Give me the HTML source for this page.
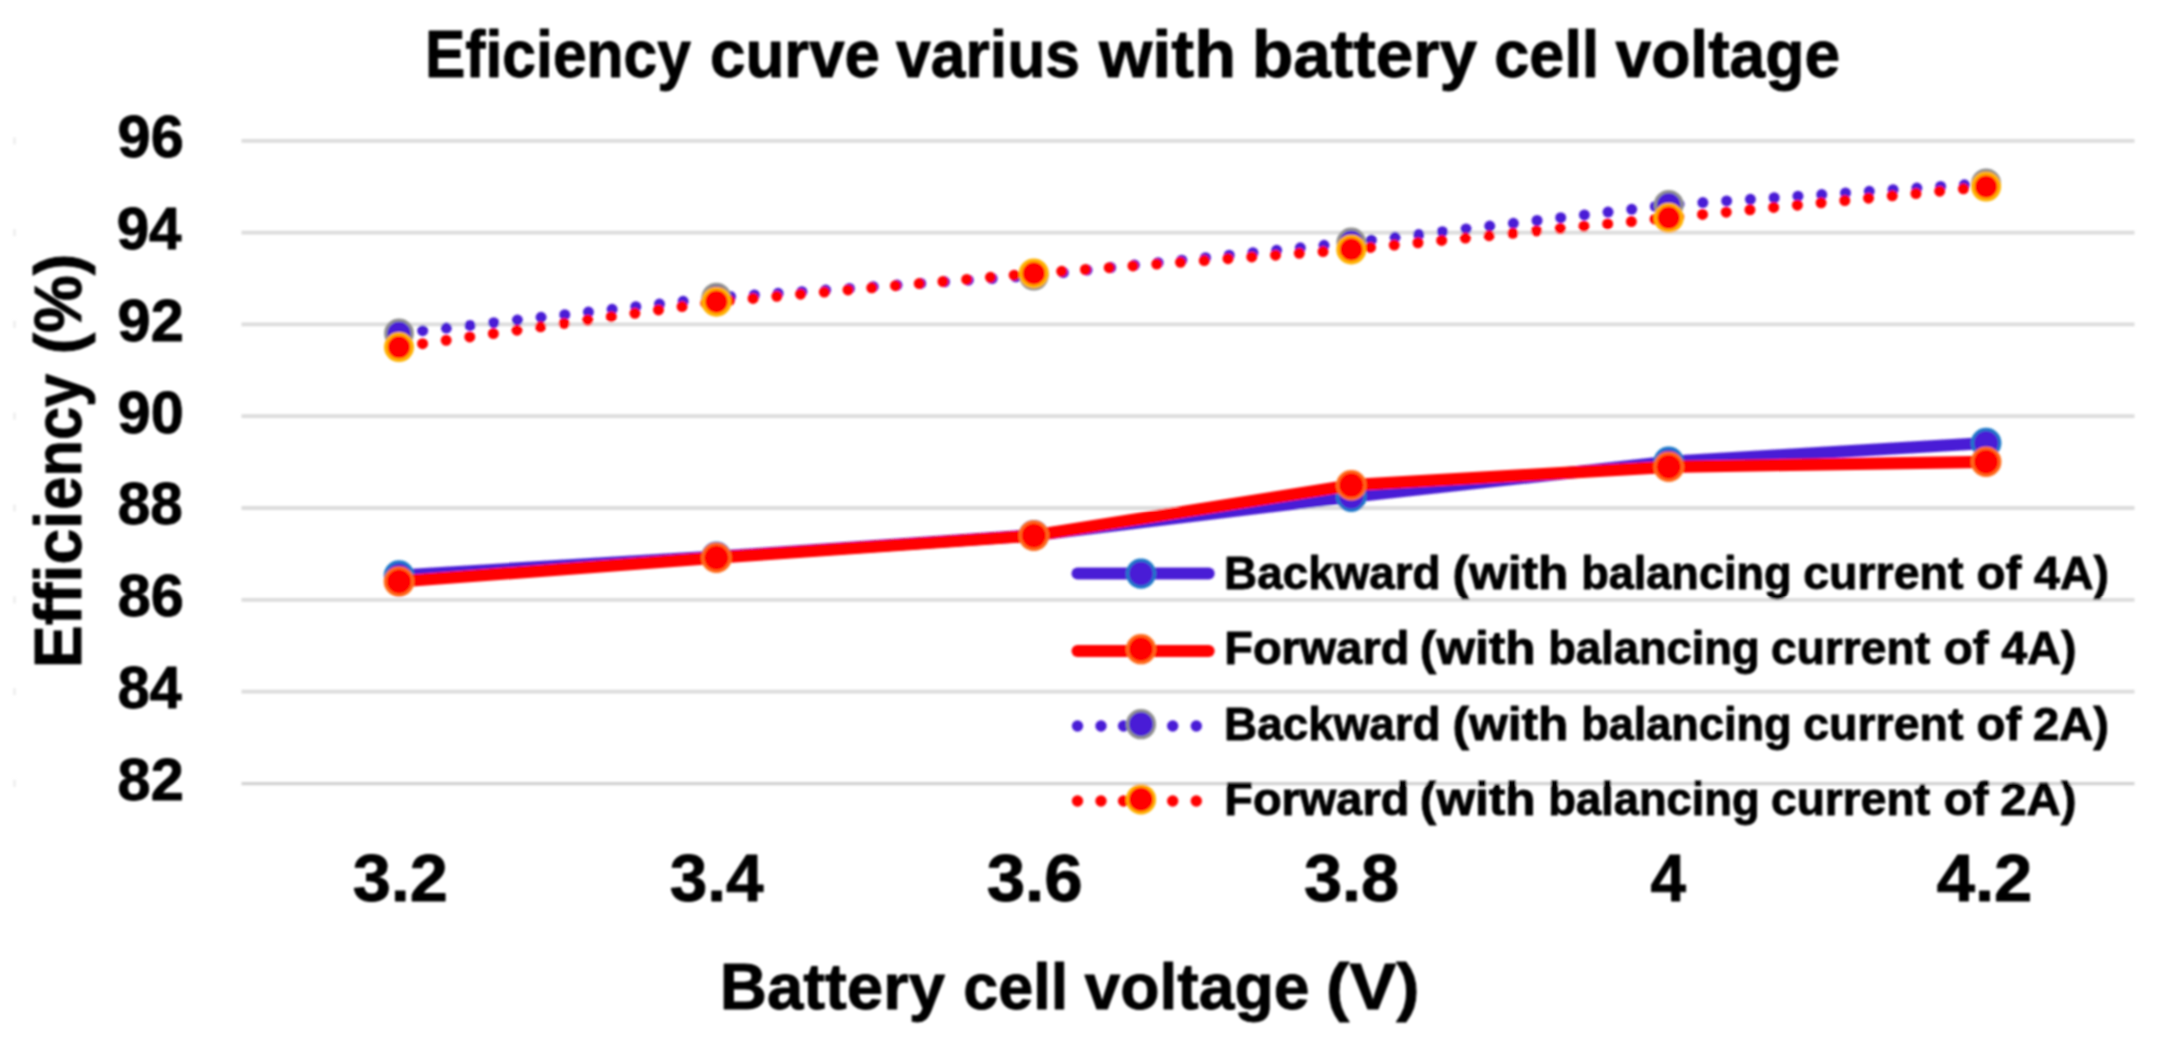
<!DOCTYPE html>
<html lang="en"><head><meta charset="utf-8"><title>Eficiency curve varius with battery cell voltage</title>
<style>html,body{margin:0;padding:0;background:#fff;}body{width:2175px;height:1041px;overflow:hidden;}svg{display:block;}text{fill:#000;stroke:#000;stroke-width:0.9px;stroke-linejoin:round;}</style>
</head><body>
<svg width="2175" height="1041" viewBox="0 0 2175 1041">
<defs><filter id="soft" x="0" y="0" width="2175" height="1041" filterUnits="userSpaceOnUse"><feGaussianBlur stdDeviation="0.8"/></filter></defs>
<rect x="0" y="0" width="2175" height="1041" fill="#ffffff"/>
<g filter="url(#soft)">
<g stroke="#dcdcdc" stroke-width="3.8" fill="none">
<line x1="241.5" y1="691.6" x2="2134.5" y2="691.6"/>
<line x1="241.5" y1="599.8" x2="2134.5" y2="599.8"/>
<line x1="241.5" y1="508.0" x2="2134.5" y2="508.0"/>
<line x1="241.5" y1="416.2" x2="2134.5" y2="416.2"/>
<line x1="241.5" y1="324.4" x2="2134.5" y2="324.4"/>
<line x1="241.5" y1="232.6" x2="2134.5" y2="232.6"/>
<line x1="241.5" y1="140.8" x2="2134.5" y2="140.8"/>
<line x1="241.5" y1="783.6" x2="2134.5" y2="783.6" stroke="#d2d2d2" stroke-width="3.2"/>
<line x1="14.5" y1="779.9" x2="14.5" y2="786.9" stroke="#ececec" stroke-width="2.5"/>
<line x1="14.5" y1="688.1" x2="14.5" y2="695.1" stroke="#ececec" stroke-width="2.5"/>
<line x1="14.5" y1="596.3" x2="14.5" y2="603.3" stroke="#ececec" stroke-width="2.5"/>
<line x1="14.5" y1="504.5" x2="14.5" y2="511.5" stroke="#ececec" stroke-width="2.5"/>
<line x1="14.5" y1="412.7" x2="14.5" y2="419.7" stroke="#ececec" stroke-width="2.5"/>
<line x1="14.5" y1="320.9" x2="14.5" y2="327.9" stroke="#ececec" stroke-width="2.5"/>
<line x1="14.5" y1="229.1" x2="14.5" y2="236.1" stroke="#ececec" stroke-width="2.5"/>
<line x1="14.5" y1="137.3" x2="14.5" y2="144.3" stroke="#ececec" stroke-width="2.5"/>
</g>
<polyline points="399.0,575.5 716.4,556.7 1033.8,535.2 1351.3,496.7 1668.7,461.8 1986.1,443.0" fill="none" stroke="#4a1fd6" stroke-width="12.2" stroke-linejoin="round" stroke-linecap="round"/>
<circle cx="399.0" cy="575.5" r="13.7" fill="#4a1fd6" stroke="#1f77c9" stroke-width="3.2"/>
<circle cx="716.4" cy="556.7" r="13.7" fill="#4a1fd6" stroke="#1f77c9" stroke-width="3.2"/>
<circle cx="1033.8" cy="535.2" r="13.7" fill="#4a1fd6" stroke="#1f77c9" stroke-width="3.2"/>
<circle cx="1351.3" cy="496.7" r="13.7" fill="#4a1fd6" stroke="#1f77c9" stroke-width="3.2"/>
<circle cx="1668.7" cy="461.8" r="13.7" fill="#4a1fd6" stroke="#1f77c9" stroke-width="3.2"/>
<circle cx="1986.1" cy="443.0" r="13.7" fill="#4a1fd6" stroke="#1f77c9" stroke-width="3.2"/>
<polyline points="399.0,581.5 716.4,557.7 1033.8,535.6 1351.3,485.2 1668.7,466.8 1986.1,461.8" fill="none" stroke="#ff0000" stroke-width="12.2" stroke-linejoin="round" stroke-linecap="round"/>
<circle cx="399.0" cy="581.5" r="13.7" fill="#ff0000" stroke="#ff6a1a" stroke-width="3.2"/>
<circle cx="716.4" cy="557.7" r="13.7" fill="#ff0000" stroke="#ff6a1a" stroke-width="3.2"/>
<circle cx="1033.8" cy="535.6" r="13.7" fill="#ff0000" stroke="#ff6a1a" stroke-width="3.2"/>
<circle cx="1351.3" cy="485.2" r="13.7" fill="#ff0000" stroke="#ff6a1a" stroke-width="3.2"/>
<circle cx="1668.7" cy="466.8" r="13.7" fill="#ff0000" stroke="#ff6a1a" stroke-width="3.2"/>
<circle cx="1986.1" cy="461.8" r="13.7" fill="#ff0000" stroke="#ff6a1a" stroke-width="3.2"/>
<polyline points="399.0,333.4 716.4,297.6 1033.8,275.6 1351.3,242.5 1668.7,204.9 1986.1,183.4" fill="none" stroke="#4a1fd6" stroke-width="11" stroke-linecap="round" stroke-dasharray="0 23.83"/>
<circle cx="399.0" cy="333.4" r="13.3" fill="#4a1fd6" stroke="#909090" stroke-width="3.2"/>
<circle cx="716.4" cy="297.6" r="13.3" fill="#4a1fd6" stroke="#909090" stroke-width="3.2"/>
<circle cx="1033.8" cy="275.6" r="13.3" fill="#4a1fd6" stroke="#909090" stroke-width="3.2"/>
<circle cx="1351.3" cy="242.5" r="13.3" fill="#4a1fd6" stroke="#909090" stroke-width="3.2"/>
<circle cx="1668.7" cy="204.9" r="13.3" fill="#4a1fd6" stroke="#909090" stroke-width="3.2"/>
<circle cx="1986.1" cy="183.4" r="13.3" fill="#4a1fd6" stroke="#909090" stroke-width="3.2"/>
<polyline points="399.0,347.1 716.4,301.7 1033.8,273.4 1351.3,249.4 1668.7,217.8 1986.1,186.6" fill="none" stroke="#ff0000" stroke-width="11" stroke-linecap="round" stroke-dasharray="0 23.83"/>
<circle cx="399.0" cy="347.1" r="13.1" fill="#ff0000" stroke="#ffb000" stroke-width="3.8"/>
<circle cx="716.4" cy="301.7" r="13.1" fill="#ff0000" stroke="#ffb000" stroke-width="3.8"/>
<circle cx="1033.8" cy="273.4" r="13.1" fill="#ff0000" stroke="#ffb000" stroke-width="3.8"/>
<circle cx="1351.3" cy="249.4" r="13.1" fill="#ff0000" stroke="#ffb000" stroke-width="3.8"/>
<circle cx="1668.7" cy="217.8" r="13.1" fill="#ff0000" stroke="#ffb000" stroke-width="3.8"/>
<circle cx="1986.1" cy="186.6" r="13.1" fill="#ff0000" stroke="#ffb000" stroke-width="3.8"/>
<line x1="1077.5" y1="573.6" x2="1208.7" y2="573.6" stroke="#4a1fd6" stroke-width="12" stroke-linecap="round"/>
<circle cx="1141" cy="573.6" r="13.5" fill="#4a1fd6" stroke="#1f77c9" stroke-width="3.2"/>
<line x1="1077.5" y1="651.0" x2="1208.7" y2="651.0" stroke="#ff0000" stroke-width="12" stroke-linecap="round"/>
<circle cx="1141" cy="649.2" r="13.5" fill="#ff0000" stroke="#ff6a1a" stroke-width="3.2"/>
<circle cx="1077.5" cy="726.0" r="5.7" fill="#4a1fd6"/>
<circle cx="1101.0" cy="726.0" r="5.7" fill="#4a1fd6"/>
<circle cx="1123.6" cy="726.0" r="5.7" fill="#4a1fd6"/>
<circle cx="1172.7" cy="726.0" r="5.7" fill="#4a1fd6"/>
<circle cx="1196.3" cy="726.0" r="5.7" fill="#4a1fd6"/>
<circle cx="1141" cy="724.2" r="13.5" fill="#4a1fd6" stroke="#909090" stroke-width="3.2"/>
<circle cx="1077.5" cy="801.0" r="5.7" fill="#ff0000"/>
<circle cx="1101.0" cy="801.0" r="5.7" fill="#ff0000"/>
<circle cx="1123.6" cy="801.0" r="5.7" fill="#ff0000"/>
<circle cx="1172.7" cy="801.0" r="5.7" fill="#ff0000"/>
<circle cx="1196.3" cy="801.0" r="5.7" fill="#ff0000"/>
<circle cx="1141" cy="799.4" r="13.5" fill="#ff0000" stroke="#ffb000" stroke-width="3.2"/>
<text y="76.9" font-size="66.2" font-family="'Liberation Sans', 'DejaVu Sans', sans-serif" font-weight="700"><tspan x="424.94" textLength="266.08" lengthAdjust="spacingAndGlyphs">Eficiency</tspan> <tspan x="709.94" textLength="170.11" lengthAdjust="spacingAndGlyphs">curve</tspan> <tspan x="896.00" textLength="184.03" lengthAdjust="spacingAndGlyphs">varius</tspan> <tspan x="1098.99" textLength="137.10" lengthAdjust="spacingAndGlyphs">with</tspan> <tspan x="1251.93" textLength="225.16" lengthAdjust="spacingAndGlyphs">battery</tspan> <tspan x="1494.33" textLength="105.05" lengthAdjust="spacingAndGlyphs">cell</tspan> <tspan x="1615.49" textLength="224.65" lengthAdjust="spacingAndGlyphs">voltage</tspan></text>
<text y="157.2" font-size="59.3" font-family="'Liberation Sans', 'DejaVu Sans', sans-serif" font-weight="700"><tspan x="117.63" textLength="66.03" lengthAdjust="spacingAndGlyphs">96</tspan></text>
<text y="249.0" font-size="59.3" font-family="'Liberation Sans', 'DejaVu Sans', sans-serif" font-weight="700"><tspan x="116.69" textLength="64.88" lengthAdjust="spacingAndGlyphs">94</tspan></text>
<text y="340.8" font-size="59.3" font-family="'Liberation Sans', 'DejaVu Sans', sans-serif" font-weight="700"><tspan x="117.64" textLength="66.10" lengthAdjust="spacingAndGlyphs">92</tspan></text>
<text y="432.6" font-size="59.3" font-family="'Liberation Sans', 'DejaVu Sans', sans-serif" font-weight="700"><tspan x="117.64" textLength="66.10" lengthAdjust="spacingAndGlyphs">90</tspan></text>
<text y="524.4" font-size="59.3" font-family="'Liberation Sans', 'DejaVu Sans', sans-serif" font-weight="700"><tspan x="117.68" textLength="64.99" lengthAdjust="spacingAndGlyphs">88</tspan></text>
<text y="616.2" font-size="59.3" font-family="'Liberation Sans', 'DejaVu Sans', sans-serif" font-weight="700"><tspan x="117.66" textLength="66.07" lengthAdjust="spacingAndGlyphs">86</tspan></text>
<text y="708.0" font-size="59.3" font-family="'Liberation Sans', 'DejaVu Sans', sans-serif" font-weight="700"><tspan x="117.71" textLength="63.93" lengthAdjust="spacingAndGlyphs">84</tspan></text>
<text y="799.8" font-size="59.3" font-family="'Liberation Sans', 'DejaVu Sans', sans-serif" font-weight="700"><tspan x="117.62" textLength="66.15" lengthAdjust="spacingAndGlyphs">82</tspan></text>
<text y="901.3" font-size="67.3" font-family="'Liberation Sans', 'DejaVu Sans', sans-serif" font-weight="700"><tspan x="352.68" textLength="95.24" lengthAdjust="spacingAndGlyphs">3.2</tspan> <tspan x="669.74" textLength="93.81" lengthAdjust="spacingAndGlyphs">3.4</tspan> <tspan x="986.74" textLength="95.91" lengthAdjust="spacingAndGlyphs">3.6</tspan> <tspan x="1303.92" textLength="95.15" lengthAdjust="spacingAndGlyphs">3.8</tspan> <tspan x="1650.48" textLength="35.52" lengthAdjust="spacingAndGlyphs">4</tspan> <tspan x="1936.68" textLength="95.71" lengthAdjust="spacingAndGlyphs">4.2</tspan></text>
<text y="1009.4" font-size="65.0" font-family="'Liberation Sans', 'DejaVu Sans', sans-serif" font-weight="700"><tspan x="719.77" textLength="225.27" lengthAdjust="spacingAndGlyphs">Battery</tspan> <tspan x="963.18" textLength="104.98" lengthAdjust="spacingAndGlyphs">cell</tspan> <tspan x="1084.49" textLength="224.92" lengthAdjust="spacingAndGlyphs">voltage</tspan> <tspan x="1326.13" textLength="93.37" lengthAdjust="spacingAndGlyphs">(V)</tspan></text>
<text y="588.8" font-size="46.0" font-family="'Liberation Sans', 'DejaVu Sans', sans-serif" font-weight="700"><tspan x="1224.11" textLength="216.51" lengthAdjust="spacingAndGlyphs">Backward</tspan> <tspan x="1452.52" textLength="115.98" lengthAdjust="spacingAndGlyphs">(with</tspan> <tspan x="1581.15" textLength="210.48" lengthAdjust="spacingAndGlyphs">balancing</tspan> <tspan x="1803.29" textLength="160.09" lengthAdjust="spacingAndGlyphs">current</tspan> <tspan x="1976.48" textLength="44.80" lengthAdjust="spacingAndGlyphs">of</tspan> <tspan x="2034.09" textLength="74.85" lengthAdjust="spacingAndGlyphs">4A)</tspan></text>
<text y="664.3" font-size="46.0" font-family="'Liberation Sans', 'DejaVu Sans', sans-serif" font-weight="700"><tspan x="1224.33" textLength="184.94" lengthAdjust="spacingAndGlyphs">Forward</tspan> <tspan x="1419.86" textLength="115.79" lengthAdjust="spacingAndGlyphs">(with</tspan> <tspan x="1548.26" textLength="211.49" lengthAdjust="spacingAndGlyphs">balancing</tspan> <tspan x="1770.97" textLength="159.05" lengthAdjust="spacingAndGlyphs">current</tspan> <tspan x="1943.68" textLength="44.95" lengthAdjust="spacingAndGlyphs">of</tspan> <tspan x="2001.31" textLength="75.20" lengthAdjust="spacingAndGlyphs">4A)</tspan></text>
<text y="739.8" font-size="46.0" font-family="'Liberation Sans', 'DejaVu Sans', sans-serif" font-weight="700"><tspan x="1224.11" textLength="216.51" lengthAdjust="spacingAndGlyphs">Backward</tspan> <tspan x="1452.52" textLength="115.98" lengthAdjust="spacingAndGlyphs">(with</tspan> <tspan x="1581.15" textLength="210.48" lengthAdjust="spacingAndGlyphs">balancing</tspan> <tspan x="1803.29" textLength="160.09" lengthAdjust="spacingAndGlyphs">current</tspan> <tspan x="1976.48" textLength="44.80" lengthAdjust="spacingAndGlyphs">of</tspan> <tspan x="2032.97" textLength="75.98" lengthAdjust="spacingAndGlyphs">2A)</tspan></text>
<text y="815.3" font-size="46.0" font-family="'Liberation Sans', 'DejaVu Sans', sans-serif" font-weight="700"><tspan x="1224.33" textLength="184.94" lengthAdjust="spacingAndGlyphs">Forward</tspan> <tspan x="1419.86" textLength="115.79" lengthAdjust="spacingAndGlyphs">(with</tspan> <tspan x="1548.26" textLength="211.49" lengthAdjust="spacingAndGlyphs">balancing</tspan> <tspan x="1770.97" textLength="159.05" lengthAdjust="spacingAndGlyphs">current</tspan> <tspan x="1943.68" textLength="44.95" lengthAdjust="spacingAndGlyphs">of</tspan> <tspan x="2000.24" textLength="76.39" lengthAdjust="spacingAndGlyphs">2A)</tspan></text>
<text transform="translate(81.0,665.0) rotate(-90)" y="0" font-size="67.0" font-family="'Liberation Sans', 'DejaVu Sans', sans-serif" font-weight="700"><tspan x="-3.29" textLength="157.45" lengthAdjust="spacingAndGlyphs">Effici</tspan><tspan x="155.31" textLength="135.94" lengthAdjust="spacingAndGlyphs">ency</tspan> <tspan x="310.80" textLength="100.41" lengthAdjust="spacingAndGlyphs">(%)</tspan></text>
</g>
</svg>
</body></html>
